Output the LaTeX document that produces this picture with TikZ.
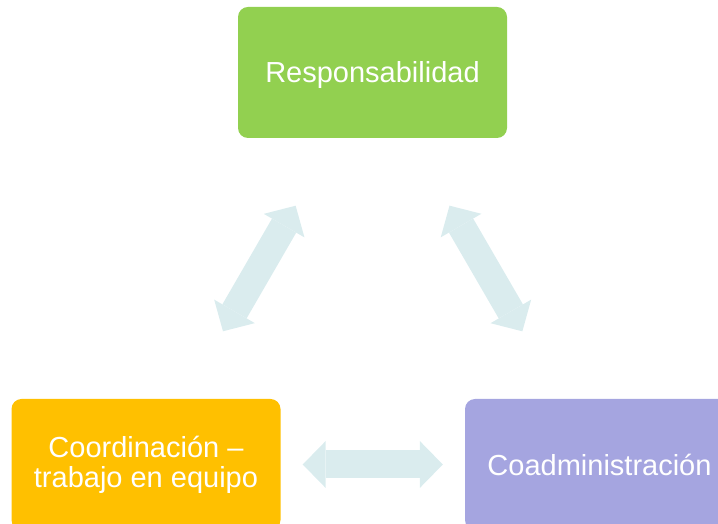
\documentclass[tikz,border=0pt]{standalone}
\usepackage{fontspec}
\setmainfont{Liberation Sans}
\usetikzlibrary{arrows.meta}

\definecolor{respgreen}{HTML}{92D050}
\definecolor{coordorange}{HTML}{FFC000}
\definecolor{coadpurple}{HTML}{A5A5E0}
\definecolor{linkblue}{HTML}{DAECEE}

\tikzset{
  valuebox/.style={rounded corners=10pt, minimum width=269pt, minimum height=131pt,
    inner sep=0pt, text=white, align=center, font=\fontsize{29}{30}\selectfont},
  twoway/.style={draw=linkblue, line width=28pt, <->}
}

\begin{document}
\begin{tikzpicture}[x=1pt,y=1pt,>={Triangle[length=23pt,width=47pt,line width=0pt]}]
\useasboundingbox (0,0) rectangle (718,524);
\clip (0,0) rectangle (718,524);

% the three values
\node[valuebox, fill=respgreen, text depth=0pt] (resp) at (372.5,451.5) {Responsabilidad};
\node[valuebox, fill=coordorange] (coord) at (146,59.5) {Coordinación --\\trabajo en equipo};
\node[valuebox, fill=coadpurple] (coad) at (599.5,59.5) {Coadministración};

% links
\draw[twoway, shorten <=78pt, shorten >=78pt] (resp) -- (coord);
\draw[twoway, shorten <=78pt, shorten >=78pt] (resp) -- (coad);
\draw[twoway, shorten <=22pt, shorten >=22pt] (coord) -- (coad);
\end{tikzpicture}
\end{document}
